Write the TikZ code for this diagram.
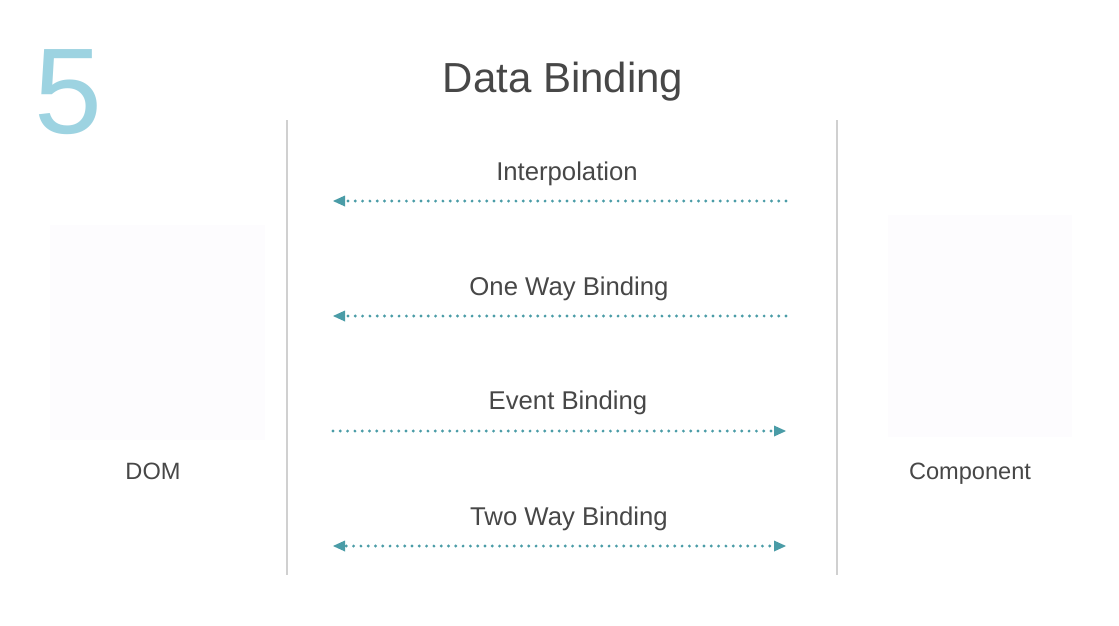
\documentclass[tikz,border=0pt]{standalone}
\usepackage{fontspec}
\setmainfont{Liberation Sans}
\usetikzlibrary{arrows.meta}
\definecolor{ink}{HTML}{474747}
\definecolor{teal5}{HTML}{9DD3E1}
\definecolor{flow}{HTML}{4A9CA7}
\definecolor{rule}{HTML}{D0D0D0}
\definecolor{ghost}{HTML}{FDFCFE}
\tikzset{
  label text/.style={font=\fontsize{25.7}{28}\selectfont, text=ink, inner sep=0pt, anchor=base},
  side text/.style={font=\fontsize{23.6}{26}\selectfont, text=ink, inner sep=0pt, anchor=base},
  divider/.style={draw=rule, line width=1.2pt},
  flowline/.style={draw=flow, line width=3.2pt, line cap=round,
    dash pattern=on 0pt off 7.3pt},
  ghostbox/.style={fill=ghost, draw=none},
  tip/.style={draw=none, fill=flow},
}
\begin{document}
\begin{tikzpicture}[x=1pt,y=-1pt]
  \useasboundingbox[fill=white] (0,0) rectangle (1119,625);

  % faint panels behind DOM and Component
  \path[ghostbox] (50,225) rectangle (265,440);
  \path[ghostbox] (888,215) rectangle (1072,437);

  % slide number and title
  \node[font=\fontsize{122}{130}\selectfont, text=teal5, inner sep=0pt, anchor=base] (num) at (68,133) {5};
  \node[font=\fontsize{42}{48}\selectfont, text=ink, inner sep=0pt, anchor=base] (title) at (563,92) {Data Binding};

  % dividers
  \draw[divider] (287,120) -- (287,575);
  \draw[divider] (837,120) -- (837,575);

  % side labels
  \node[side text] (dom) at (153,479) {DOM};
  \node[side text] (comp) at (970,479) {Component};

  % binding labels
  \node[label text] (interp) at (567,180) {Interpolation};
  \node[label text] (oneway) at (569,295) {One Way Binding};
  \node[label text] (event) at (568,409) {Event Binding};
  \node[label text] (twoway) at (569,525) {Two Way Binding};

  % arrow end points
  \coordinate (a1l) at (333,201); \coordinate (a1r) at (786,201);
  \coordinate (a2l) at (333,316); \coordinate (a2r) at (786,316);
  \coordinate (a3l) at (333,431); \coordinate (a3r) at (786,431);
  \coordinate (a4l) at (333,546); \coordinate (a4r) at (786,546);

  % dotted flows
  \draw[flowline] (a1r) -- ([xshift=9pt]a1l);
  \draw[flowline] (a2r) -- ([xshift=9pt]a2l);
  \draw[flowline] (a3l) -- ([xshift=-9pt]a3r);
  \draw[flowline] ([xshift=-9pt]a4r) -- ([xshift=9pt]a4l);

  % arrow heads
  \path[tip] (a1l) -- ++(12,-5.5) -- ++(0,11) -- cycle;
  \path[tip] (a2l) -- ++(12,-5.5) -- ++(0,11) -- cycle;
  \path[tip] (a3r) -- ++(-12,-5.5) -- ++(0,11) -- cycle;
  \path[tip] (a4l) -- ++(12,-5.5) -- ++(0,11) -- cycle;
  \path[tip] (a4r) -- ++(-12,-5.5) -- ++(0,11) -- cycle;
\end{tikzpicture}
\end{document}
